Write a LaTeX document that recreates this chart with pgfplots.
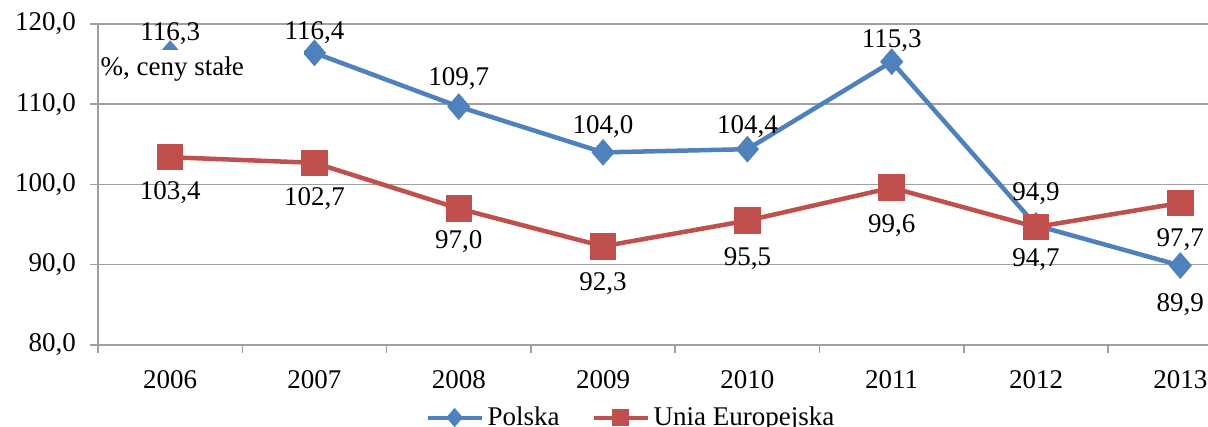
\documentclass[border=0pt]{standalone}
\usepackage{fontspec}
\setmainfont{Liberation Serif}
\usepackage{pgfplots}
\usepackage{pgfplotstable}
\pgfplotsset{compat=1.18}
\definecolor{pl}{RGB}{79,129,189}
\definecolor{ue}{RGB}{192,80,77}
\definecolor{gridc}{RGB}{160,160,160}

\pgfplotstableread{
x y off
2006 116.3 10
2007 116.4 10
2008 109.7 14
2009 104.0 13
2010 104.4 11.5
2011 115.3 10.5
2012 94.9 16
2013 89.9 -19.5
}\polska
\pgfplotstableread{
x y off
2006 103.4 -17.5
2007 102.7 -18
2008 97.0 -16.5
2009 92.3 -18.5
2010 95.5 -19
2011 99.6 -19
2012 94.7 -16.5
2013 97.7 -18.5
}\unia

\newcommand{\ff}{\fontsize{13.5pt}{16pt}\selectfont}

\begin{document}
\begin{tikzpicture}[font=\ff]
\begin{axis}[
  name=ax,
  set layers,
  scale only axis,
  width=555pt, height=160.5pt,
  xmin=2005.5, xmax=2013.192,
  ymin=80, ymax=120,
  ytick={80,90,100,110,120},
  ymajorgrids,
  grid style={gridc, line width=0.75pt},
  separate axis lines,
  axis x line*=bottom,
  axis y line*=left,
  axis line style={gridc, line width=0.75pt, -},
  tick align=outside,
  major tick length=4pt,
  tick style={gridc, line width=0.75pt},
  xtick={2005.5,2006.5,...,2012.5},
  xticklabels={},
  extra x ticks={2006,2007,2008,2009,2010,2011,2012,2013},
  extra x tick labels={2006,2007,2008,2009,2010,2011,2012,2013},
  extra x tick style={major tick length=0pt, xticklabel style={yshift=-9pt}},
  tick label style={font=\ff, text=black},
  yticklabel style={xshift=-3.5pt, /pgf/number format/.cd, fixed, fixed zerofill, precision=1, use comma, assume math mode=true},
  legend style={at={(0.481,-0.226)}, anchor=center, draw=none, fill=none, font=\ff,
    legend columns=2, /tikz/every even column/.append style={column sep=14pt}},
  legend image code/.code={\draw[mark repeat=2, mark phase=2, line width=2pt, mark size=3.3pt] plot coordinates {(0pt,0pt) (13.5pt,0pt) (27pt,0pt)};},
  nodes near coords={\pgfmathprintnumber[fixed, fixed zerofill, precision=1, use comma, assume math mode=true]{\pgfplotspointmeta}},
  visualization depends on={\thisrow{off} \as \myoff},
  every node near coord/.append style={font=\ff, text=black, anchor=center, yshift=\myoff pt},
]
\addplot[pl, line width=2.25pt, mark=diamond*, mark size=5pt, mark options={solid, fill=pl, xscale=1.15}] table[x=x, y=y] {\polska};
\addlegendentry{Polska}
\addplot[ue, line width=2.25pt, mark=square*, mark size=5.5pt, mark options={solid, fill=ue}] table[x=x, y=y] {\unia};
\addlegendentry{Unia Europejska}
\begin{pgfonlayer}{axis foreground}
\fill[white] (axis cs:2005.52,111.2) rectangle (axis cs:2006.93,116.76);
\node[anchor=west, inner sep=0pt, text=black, font=\ff] at (axis cs:2005.515,114.4) {\%, ceny stałe};
\end{pgfonlayer}
\end{axis}
\pgfresetboundingbox
\path[use as bounding box] ([xshift=-49pt, yshift=-41pt]ax.south west) rectangle ([yshift=12pt]ax.north east);
\end{tikzpicture}
\end{document}
